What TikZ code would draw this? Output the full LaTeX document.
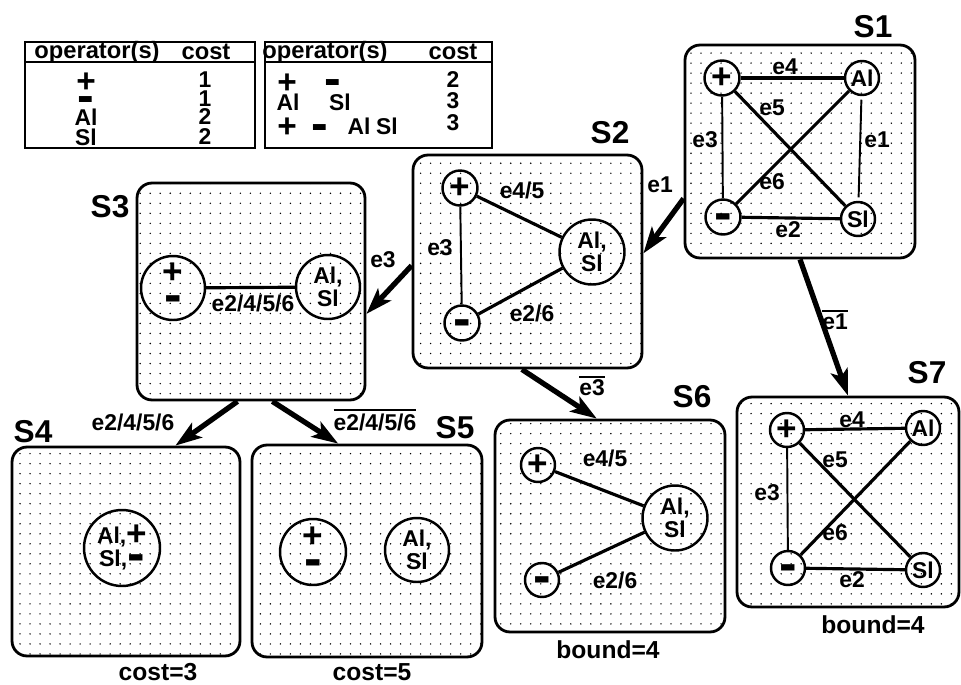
\documentclass[tikz,border=0pt]{standalone}
\usepackage{graphicx}
\usepackage{fontspec}
\setmainfont{Liberation Sans}
\usetikzlibrary{arrows.meta, patterns.meta}
\newcommand\negedge[1]{\leavevmode\vbox{\hrule height 1.1pt\kern1.2pt\hbox{#1}}}
\newcommand\negbar{\smash{\scalebox{1.5}{-}}}
\newcommand\negsign{\negbar\rule{0pt}{.78em}}

\begin{document}
\begin{tikzpicture}[
  x=0.02cm, y=-0.02cm,
  state/.style={draw, line width=1.6pt, rounded corners=0.3cm, pattern={Dots[distance=5.7pt, radius=0.45pt]}},
  op/.style={draw, circle, line width=1.4pt, inner sep=0pt, minimum size=0.7cm, font=\fontsize{20}{20}\selectfont\bfseries},
  grp/.style={draw, circle, line width=1.4pt, inner sep=0pt, minimum size=1.3cm, align=center, font=\fontsize{13}{13}\selectfont\bfseries},
  lbl/.style={font=\fontsize{13}{13}\selectfont\bfseries, inner sep=1pt},
  sname/.style={font=\fontsize{18}{18}\selectfont\bfseries, inner sep=0pt},
  note/.style={font=\fontsize{14}{14}\selectfont\bfseries, inner sep=0pt},
  hd/.style={draw, line width=1.3pt, minimum height=0.4cm},
  bd/.style={draw, line width=1.3pt, minimum height=1.72cm},
  thd/.style={font=\fontsize{13.5}{13}\selectfont\bfseries, inner sep=0pt},
  tcell/.style={font=\fontsize{13}{13}\selectfont\bfseries, inner sep=0pt},
  sign/.style={font=\fontsize{19}{19}\selectfont\bfseries, inner sep=0pt},
  wide/.style={line width=1.8pt},
  slim/.style={line width=1.1pt},
  arr/.style={line width=3pt, -{Stealth[length=15pt, width=10pt, inset=3.5pt]}}
]
% cost tables
\node[hd, minimum width=4.6cm] (t1h) at (140,52) {};
\node[bd, minimum width=4.6cm] (t1b) at (140,105) {};
\node[thd] (t1op) at (97,52) {operator(s)};
\node[thd] (t1c) at (206,52) {cost};
\node[sign] (t1r1) at (86,83) {+};
\node[sign] (t1r2) at (86,99) {\negsign};
\node[tcell] (t1r3) at (86,117) {Al};
\node[tcell] (t1r4) at (86,137) {Sl};
\node[tcell] (t1v1) at (205,80) {1};
\node[tcell] (t1v2) at (205,99) {1};
\node[tcell] (t1v3) at (205,117) {2};
\node[tcell] (t1v4) at (205,137) {2};

\node[hd, minimum width=4.54cm] (t2h) at (378.5,52) {};
\node[bd, minimum width=4.54cm] (t2b) at (378.5,105) {};
\node[thd] (t2op) at (325,52) {operator(s)};
\node[thd] (t2c) at (453,52) {cost};
\node[sign] (t2a1) at (287,84) {+};
\node[sign] (t2a2) at (333,82) {\negsign};
\node[tcell] (t2v1) at (453,80) {2};
\node[tcell] (t2b1) at (288,102) {Al};
\node[tcell] (t2b2) at (340,102) {Sl};
\node[tcell] (t2v2) at (453,101) {3};
\node[sign] (t2c1) at (287,128) {+};
\node[sign] (t2c2) at (320,127) {\negsign};
\node[tcell] (t2c3) at (359,126) {Al};
\node[tcell] (t2c4) at (387,126) {Sl};
\node[tcell] (t2v3) at (453,123) {3};

% search states
\node[state, minimum width=4.6cm, minimum height=4.26cm] (s1) at (800,151.5) {};
\node[state, minimum width=4.58cm, minimum height=4.26cm] (s2) at (527.5,261.5) {};
\node[state, minimum width=4.56cm, minimum height=4.34cm] (s3) at (251,291.5) {};
\node[state, minimum width=4.56cm, minimum height=4.18cm] (s4) at (126,551.5) {};
\node[state, minimum width=4.6cm, minimum height=4.24cm] (s5) at (367,551) {};
\node[state, minimum width=4.6cm, minimum height=4.24cm] (s6) at (610,526) {};
\node[state, minimum width=4.44cm, minimum height=4.2cm] (s7) at (848,502) {};

\node[sname] (n1) at (873,27) {S1};
\node[sname] (n2) at (610,133) {S2};
\node[sname] (n3) at (110,207) {S3};
\node[sname] (n4) at (33,432) {S4};
\node[sname] (n5) at (455,428) {S5};
\node[sname] (n6) at (692,397) {S6};
\node[sname] (n7) at (927,373) {S7};

% S1
\node[op] (s1p) at (722,78) {+};
\node[op, minimum size=0.68cm, font=\fontsize{13}{13}\selectfont\bfseries] (s1a) at (862,78) {Al};
\node[op] (s1m) at (723,217) {\negsign};
\node[op, minimum size=0.68cm, font=\fontsize{13}{13}\selectfont\bfseries] (s1s) at (858,219) {Sl};
\draw[wide] (s1p) -- (s1a);
\draw[slim] (s1p) -- (s1m);
\draw[slim, shorten <=2pt, shorten >=2pt] (s1a) -- (s1s);
\draw[wide] (s1p) -- (s1s);
\draw[wide] (s1a) -- (s1m);
\draw[wide] (s1m) -- (s1s);
\node[lbl] (l1a) at (785,67) {e4};
\node[lbl] (l1b) at (772,108) {e5};
\node[lbl] (l1c) at (705,140) {e3};
\node[lbl] (l1d) at (877,140) {e1};
\node[lbl] (l1e) at (772,182) {e6};
\node[lbl] (l1f) at (788,230) {e2};

% S2
\node[op] (s2p) at (460,188) {+};
\node[grp] (s2g) at (592,252) {Al,\\Sl};
\node[op] (s2m) at (462,323) {\negsign};
\draw[wide] (s2p) -- (s2g);
\draw[slim] (s2p) -- (s2m);
\draw[wide] (s2m) -- (s2g);
\node[lbl] (l2a) at (522,190) {e4/5};
\node[lbl] (l2b) at (440,248) {e3};
\node[lbl] (l2c) at (532,313) {e2/6};

% S3
\node[grp, minimum size=1.28cm, font=\fontsize{20}{14}\selectfont\bfseries] (s3p) at (173,288) {+\\\negsign};
\node[grp, minimum size=1.28cm] (s3g) at (328,287) {Al,\\Sl};
\draw[wide] (s3p) -- (s3g);
\node[lbl] (l3a) at (253,303) {e2/4/5/6};

% S4
\node[grp, minimum size=1.52cm] (s4g) at (122,548) {Al,{\fontsize{20}{13}\selectfont\raisebox{-1pt}{+}}\\Sl,{\fontsize{20}{13}\selectfont\raisebox{-3pt}{\negbar}}};
\node[note] (c4) at (158,672) {cost=3};

% S5
\node[grp, minimum size=1.32cm, font=\fontsize{20}{14}\selectfont\bfseries] (s5p) at (313,552) {+\\\negsign};
\node[grp, minimum size=1.28cm] (s5g) at (417,550) {Al,\\Sl};
\node[note] (c5) at (372,672) {cost=5};

% S6
\node[op, minimum size=0.68cm] (s6p) at (538,465) {+};
\node[grp] (s6g) at (675,518) {Al,\\Sl};
\node[op, minimum size=0.68cm] (s6m) at (542,580) {\negsign};
\draw[wide] (s6p) -- (s6g);
\draw[wide] (s6m) -- (s6g);
\node[lbl] (l6a) at (605,458) {e4/5};
\node[lbl] (l6b) at (615,580) {e2/6};
\node[note] (b6) at (608,650) {bound=4};

% S7
\node[op, minimum size=0.68cm] (s7p) at (787,430) {+};
\node[op, minimum size=0.68cm, font=\fontsize{13}{13}\selectfont\bfseries] (s7a) at (923,428) {Al};
\node[op, minimum size=0.68cm] (s7m) at (788,568) {\negsign};
\node[op, minimum size=0.68cm, font=\fontsize{13}{13}\selectfont\bfseries] (s7s) at (923,570) {Sl};
\draw[wide] (s7p) -- (s7a);
\draw[slim] (s7p) -- (s7m);
\draw[wide] (s7p) -- (s7s);
\draw[wide] (s7a) -- (s7m);
\draw[wide] (s7m) -- (s7s);
\node[lbl] (l7a) at (852,420) {e4};
\node[lbl] (l7b) at (835,460) {e5};
\node[lbl] (l7c) at (767,493) {e3};
\node[lbl] (l7d) at (835,533) {e6};
\node[lbl] (l7e) at (852,580) {e2};
\node[note] (b7) at (873,625) {bound=4};

% branches
\draw[arr] (s1.202) -- (s2.4);
\draw[arr] (s1.south) -- (s7.north);
\draw[arr] (s2.182) -- (s3.-11);
\draw[arr] (s2.-93) -- (s6.97);
\draw[arr] (s3.-97) -- (s4.65);
\draw[arr] (s3.-79) -- (s5.105);
\node[lbl] (a1) at (660,185) {e1};
\node[lbl] (a2) at (835,320) {\negedge{e1}};
\node[lbl] (a3) at (383,260) {e3};
\node[lbl] (a4) at (592,386) {\negedge{e3}};
\node[lbl] (a5) at (133,422) {e2/4/5/6};
\node[lbl] (a6) at (375,420) {\negedge{e2/4/5/6}};

\useasboundingbox (0,0) rectangle (961,684);
\end{tikzpicture}
\end{document}
